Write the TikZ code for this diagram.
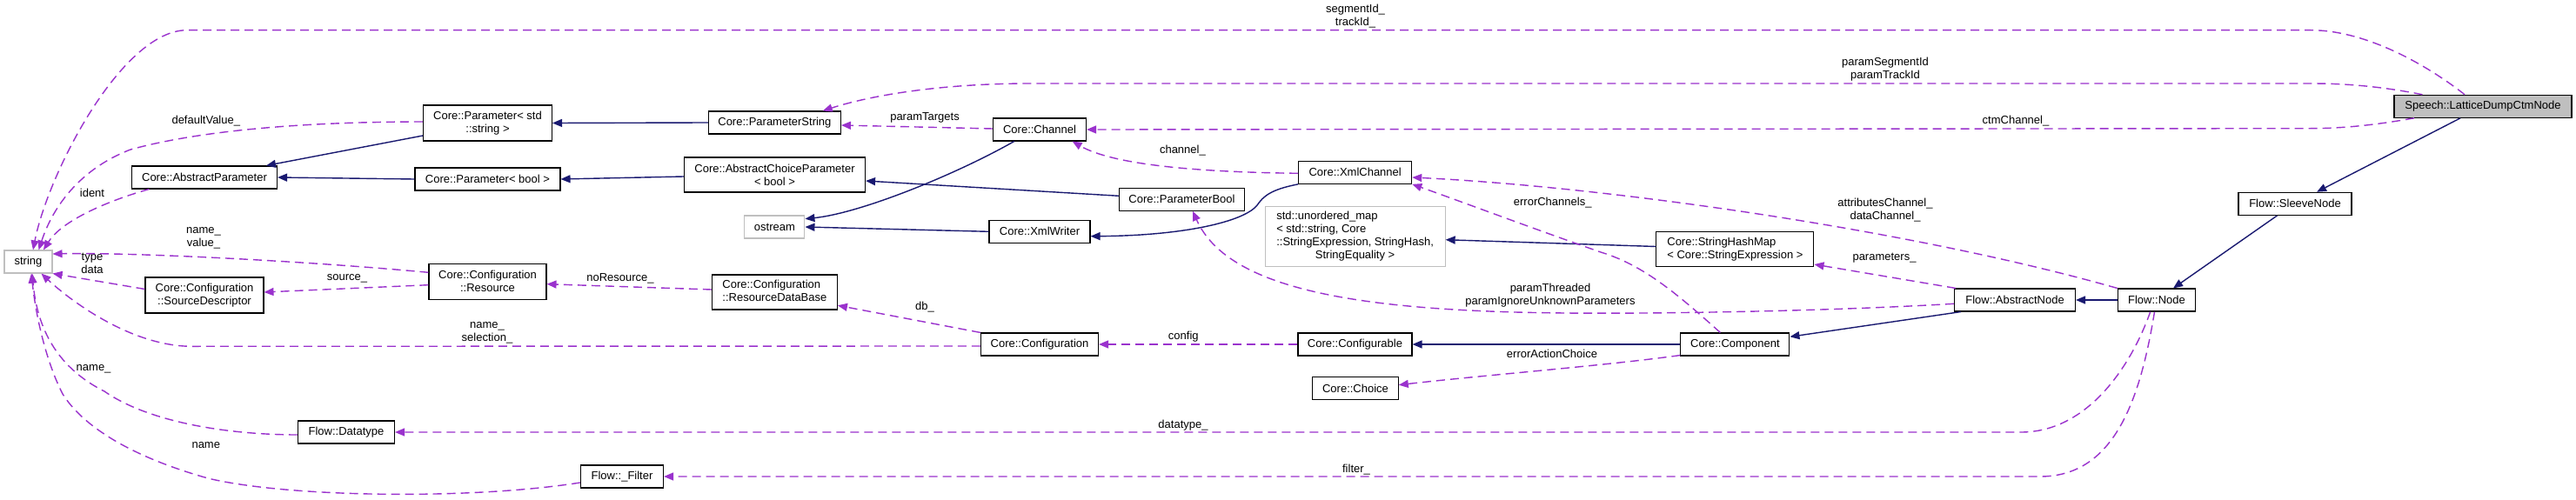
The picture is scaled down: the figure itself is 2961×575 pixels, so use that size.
\documentclass[tikz,border=0pt]{standalone}
\usepackage{fontspec}
\setmainfont{Liberation Sans}
\usetikzlibrary{arrows.meta,calc}
\definecolor{inhcol}{HTML}{191970}
\definecolor{usecol}{HTML}{9A32CD}
\definecolor{extcol}{HTML}{BFBFBF}
\begin{document}
\begin{tikzpicture}[x=1pt,y=-1pt,
  every node/.style={font=\fontsize{13}{15}\selectfont},
  box/.style={draw=black, line width=1.1pt, fill=white, inner sep=0pt, minimum height=26pt, align=center},
  ext/.style={box, draw=extcol},
  lbl/.style={inner sep=0pt, align=center},
  inh/.style={draw=inhcol, line width=1.4pt, -{Triangle[length=11pt,width=9pt]}},
  use/.style={draw=usecol, line width=1.4pt, dash pattern=on 10pt off 6pt, -{Triangle[length=11pt,width=9pt]}},
]
\fill[white] (0,0) rectangle (2961,575);
\useasboundingbox (0,0) rectangle (2961,575);

% nodes
\node[ext, minimum width=55pt] (string) at (32.5,301) {string};
\node[box, minimum width=148pt, minimum height=41pt] (paramstd) at (560.5,141.5) {Core::Parameter< std\\::string >};
\node[box, minimum width=167pt] (absparam) at (235,204) {Core::AbstractParameter};
\node[box, minimum width=167pt] (parambool) at (560.5,206) {Core::Parameter< bool >};
\node[box, minimum width=136pt, minimum height=41pt] (srcdesc) at (235,339.5) {Core::Configuration\\::SourceDescriptor};
\node[box, minimum width=135pt, minimum height=41pt] (resource) at (560.5,323.7) {Core::Configuration\\::Resource};
\node[box, minimum width=111pt] (datatype) at (398,497) {Flow::Datatype};
\node[box, minimum width=95pt] (filter) at (715,548) {Flow::\_Filter};
\node[box, minimum width=152pt] (pstring) at (890.4,141) {Core::ParameterString};
\node[box, minimum width=208pt, minimum height=40pt] (abschoice) at (890.5,201) {Core::AbstractChoiceParameter\\< bool >};
\node[ext, minimum width=69pt] (ostream) at (890.4,261) {ostream};
\node[box, minimum width=144pt, minimum height=40pt] (resdb) at (890.4,336) {\begin{tabular}{@{}l@{}}Core::Configuration\\::ResourceDataBase\end{tabular}};
\node[box, minimum width=107pt] (channel) at (1195,149) {Core::Channel};
\node[box, minimum width=143.5pt] (pbool) at (1358.5,229.3) {Core::ParameterBool};
\node[box, minimum width=116pt] (xmlwriter) at (1195,266.3) {Core::XmlWriter};
\node[box, minimum width=135pt] (config) at (1195,396) {Core::Configuration};
\node[box, minimum width=130pt] (xmlchannel) at (1557.7,198.3) {Core::XmlChannel};
\node[ext, minimum width=207pt, minimum height=69pt] (umap) at (1557.6,271.7) {\begin{tabular}{@{}l@{}}std::unordered\_map\\< std::string, Core\\::StringExpression, StringHash,\\\multicolumn{1}{@{}c@{}}{StringEquality >}\end{tabular}};
\node[box, minimum width=131pt] (configurable) at (1557.5,396) {Core::Configurable};
\node[box, minimum width=98.5pt] (choice) at (1558,446.5) {Core::Choice};
\node[box, minimum width=181pt, minimum height=40pt] (strhash) at (1994.4,286.5) {\begin{tabular}{@{}l@{}}Core::StringHashMap\\< Core::StringExpression >\end{tabular}};
\node[box, minimum width=125pt] (component) at (1994.4,396) {Core::Component};
\node[box, minimum width=139pt] (absnode) at (2316,345) {Flow::AbstractNode};
\node[box, minimum width=89.5pt] (fnode) at (2479,345) {Flow::Node};
\node[box, minimum width=130pt] (sleeve) at (2638,234.3) {Flow::SleeveNode};
\node[box, fill=extcol, minimum width=204pt] (root) at (2854,122.3) {Speech::LatticeDumpCtmNode};

% labels
\node[lbl] (lseg) at (1558,19) {segmentId\_\\trackId\_};
\node[lbl] (lpseg) at (2167,80) {paramSegmentId\\paramTrackId};
\node[lbl] (lctm) at (2317,139.3) {ctmChannel\_};
\node[lbl] (lchan) at (1359.4,172.7) {channel\_};
\node[lbl] (lptar) at (1063,135.7) {paramTargets};
\node[lbl] (ldef) at (236.8,139.3) {defaultValue\_};
\node[lbl] (lident) at (106,222.3) {ident};
\node[lbl] (lnamval) at (234,274) {name\_\\value\_};
\node[lbl] (ltype) at (106,303) {type\\data};
\node[lbl] (lsource) at (399,320.7) {source\_};
\node[lbl] (lnores) at (713,320) {noResource\_};
\node[lbl] (ldb) at (1063,352.7) {db\_};
\node[lbl] (lnamesel) at (560,383) {name\_\\selection\_};
\node[lbl] (lconfig) at (1360.3,387.3) {config};
\node[lbl] (leac) at (1784,407.3) {errorActionChoice};
\node[lbl] (lerrch) at (1784.7,232.7) {errorChannels\_};
\node[lbl] (lattr) at (2167,241.5) {attributesChannel\_\\dataChannel\_};
\node[lbl] (lparams) at (2166,296.7) {parameters\_};
\node[lbl] (lpthr) at (1782,340) {paramThreaded\\paramIgnoreUnknownParameters};
\node[lbl] (ldtype) at (1360,489) {datatype\_};
\node[lbl] (lfilter) at (1559,540) {filter\_};
\node[lbl] (lname1) at (107.6,424) {name\_};
\node[lbl] (lname2) at (236.8,511.7) {name};

% inheritance
\draw[inh] ($(paramstd.west)+(0,14.5)$) -- ($(absparam.north)+(71,0)$);
\draw[inh] (parambool.west) -- (absparam.east);
\draw[inh] (pstring.west) -- (paramstd.east);
\draw[inh] ($(abschoice.west)+(0,2)$) -- (parambool.east);
\draw[inh] ($(pbool.west)+(0,-4)$) -- ($(abschoice.east)+(0,7)$);
\draw[inh] ($(channel.south)+(-29.3,0)$) .. controls (1100,200) and (990,245) .. ($(ostream.east)+(0,-9.3)$);
\draw[inh] (xmlwriter.west) -- (ostream.east);
\draw[inh] (xmlchannel.south west) .. controls (1460,218) and (1452,226) .. (1445,236) .. controls (1430,255) and (1360,271) .. ($(xmlwriter.east)+(0,5.4)$);
\draw[inh] ($(strhash.west)+(0,-3)$) -- ($(umap.east)+(0,4)$);
\draw[inh] (component.west) -- (configurable.east);
\draw[inh] ($(absnode.south west)+(8,0)$) -- ($(component.east)+(0,-8.7)$);
\draw[inh] (fnode.west) -- (absnode.east);
\draw[inh] ($(sleeve.south)+(-20.4,0)$) -- ($(fnode.north)+(19,0)$);
\draw[inh] ($(root.south)+(-26,0)$) -- ($(sleeve.north)+(25,0)$);

% usage
\draw[use] ($(root.north)+(-21,0)$) .. controls (2790,75) and (2720,34.7) .. (2656,34.7) -- (215,34.7) .. controls (140,34.7) and (55,200) .. ($(string.north)+(5.5,0)$);
\draw[use] ($(root.north west)+(33,0)$) .. controls (2740,100) and (2700,96) .. (2656,96) -- (1185,96) .. controls (1080,96) and (1000,110) .. ($(pstring.north)+(55.3,0)$);
\draw[use] ($(root.south west)+(23.4,0)$) .. controls (2740,142) and (2700,147.7) .. (2656,147.7) -- (channel.east);
\draw[use] ($(xmlchannel.west)+(0,1)$) .. controls (1380,198) and (1280,190) .. ($(channel.south)+(37.6,0)$);
\draw[use] ($(channel.west)+(0,-1)$) -- ($(pstring.east)+(0,3)$);
\draw[use] ($(paramstd.west)+(0,-1.5)$) .. controls (350,140) and (230,150) .. (150,172) .. controls (90,195) and (60,240) .. ($(string.north)+(12,0)$);
\draw[use] ($(absparam.south west)+(20.4,0)$) .. controls (120,232) and (70,255) .. ($(string.north)+(17.5,0)$);
\draw[use] ($(resource.west)+(0,-10.4)$) .. controls (350,300) and (150,290) .. ($(string.east)+(0,-9)$);
\draw[use] ($(srcdesc.west)+(0,-7)$) -- (string.south east);
\draw[use] ($(resource.west)+(0,4)$) -- ($(srcdesc.east)+(0,-3.5)$);
\draw[use] ($(resdb.west)+(0,-3)$) -- ($(resource.east)+(0,3)$);
\draw[use] (config.north west) -- ($(resdb.south east)+(0,-5.3)$);
\draw[use] ($(config.west)+(0,2)$) -- (220,398.3) .. controls (150,398) and (80,345) .. ($(string.south)+(15,0)$);
\draw[use] (configurable.west) -- (config.east);
\draw[use] ($(component.south west)+(0,-1)$) .. controls (1850,420) and (1700,432) .. ($(choice.east)+(0,-3.8)$);
\draw[use] ($(component.north)+(-17,0)$) .. controls (1930,340) and (1890,305) .. (1840,290) .. controls (1760,262) and (1680,232) .. (xmlchannel.south east);
\draw[use] (fnode.north west) .. controls (2200,265) and (1850,215) .. ($(xmlchannel.east)+(0,5.7)$);
\draw[use] ($(absnode.north west)+(2,0)$) -- ($(strhash.south east)+(0,-3)$);
\draw[use] ($(absnode.west)+(0,4.3)$) .. controls (2100,358) and (1900,361) .. (1800,360) .. controls (1550,358) and (1410,330) .. ($(pbool.south)+(12.5,0)$);
\draw[use] ($(fnode.south)+(-7.3,0)$) .. controls (2450,420) and (2400,497) .. (2323,497) -- (datatype.east);
\draw[use] ($(fnode.south)+(-2.5,0)$) .. controls (2460,460) and (2430,548) .. (2345,548) -- (filter.east);
\draw[use] ($(datatype.west)+(0,3)$) .. controls (260,500) and (170,485) .. (120,450) .. controls (60,420) and (42,370) .. ($(string.south)+(4.5,0)$);
\draw[use] ($(filter.west)+(0,7)$) .. controls (540,575) and (330,572) .. (239,550) .. controls (150,525) and (95,490) .. (72,453) .. controls (55,420) and (42,370) .. ($(string.south)+(3.5,0)$);
\end{tikzpicture}
\end{document}
